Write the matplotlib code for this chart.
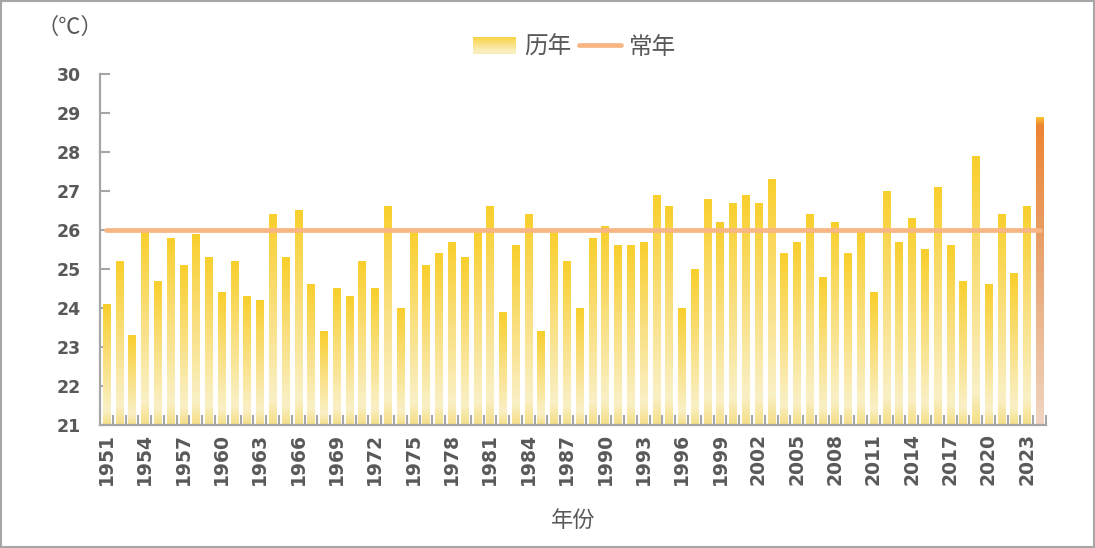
import numpy as np
import matplotlib
matplotlib.use("Agg")
import matplotlib.pyplot as plt
from matplotlib.colors import LinearSegmentedColormap
from matplotlib.patches import Rectangle
from matplotlib.lines import Line2D
from matplotlib.legend_handler import HandlerBase

# 数据
years = list(range(1951, 2025))
temps = [
    24.1, 25.2, 23.3, 26.0, 24.7, 25.8, 25.1, 25.9, 25.3, 24.4,  # 1951-1960
    25.2, 24.3, 24.2, 26.4, 25.3, 26.5, 24.6, 23.4, 24.5, 24.3,  # 1961-1970
    25.2, 24.5, 26.6, 24.0, 26.0, 25.1, 25.4, 25.7, 25.3, 26.0,  # 1971-1980
    26.6, 23.9, 25.6, 26.4, 23.4, 26.0, 25.2, 24.0, 25.8, 26.1,  # 1981-1990
    25.6, 25.6, 25.7, 26.9, 26.6, 24.0, 25.0, 26.8, 26.2, 26.7,  # 1991-2000
    26.9, 26.7, 27.3, 25.4, 25.7, 26.4, 24.8, 26.2, 25.4, 26.0,  # 2001-2010
    24.4, 27.0, 25.7, 26.3, 25.5, 27.1, 25.6, 24.7, 27.9, 24.6,  # 2011-2020
    26.4, 24.9, 26.6, 28.9,                                      # 2021-2024
]
normal_temp = 26.0
label_years = years[:-1:3]
y_ticks = list(range(21, 31))

text_color = "#595959"
axis_color = "#A6A6A6"
cjk = ["Noto Sans CJK SC", "DejaVu Sans"]

# 渐变色
yellow_cm = LinearSegmentedColormap.from_list(
    "yellow", [(0.0, "#F9CF2C"), (0.45, "#F9DF7E"), (0.88, "#FAF0C6"), (1.0, "#F4DE86")])
orange_cm = LinearSegmentedColormap.from_list(
    "orange", [(0.0, "#F8C22C"), (0.025, "#EE8432"), (0.4, "#E89F68"), (1.0, "#F0D5C1")])


class GradientHandler(HandlerBase):
    def create_artists(self, legend, orig_handle, xdescent, ydescent,
                       width, height, fontsize, trans):
        n = 16
        arts = []
        for i in range(n):
            y = -ydescent + height * (1 - (i + 1) / n)
            r = Rectangle((-xdescent, y), width, height / n + 0.3,
                          facecolor=yellow_cm(0.15 + 0.75 * i / (n - 1)),
                          edgecolor="none", transform=trans)
            arts.append(r)
        return arts


fig = plt.figure(figsize=(10.95, 5.48), dpi=100)
ax = fig.add_axes([100 / 1095, 1 - 424.7 / 548, 946 / 1095, 350.7 / 548])

base = y_ticks[0]
heights = [t - base for t in temps]
bars = ax.bar(years, heights, bottom=base, width=0.56, color="none", zorder=2)

grad = np.linspace(0, 1, 256).reshape(-1, 1)
for i, b in enumerate(bars):
    x0 = b.get_x()
    x1 = x0 + b.get_width()
    cm = orange_cm if i == len(bars) - 1 else yellow_cm
    im = ax.imshow(grad, cmap=cm, extent=(x0, x1, base, base + b.get_height()),
                   origin="upper", aspect="auto", zorder=2, interpolation="bilinear")
    im.set_clip_path(b)

ax.plot([years[0], years[-1]], [normal_temp, normal_temp], color="#F7B683",
        lw=3.4, solid_capstyle="round", zorder=3)

ax.set_xlim(years[0] - 0.5, years[-1] + 0.5)
ax.set_ylim(y_ticks[0], y_ticks[-1])
ax.set_aspect("auto")

ax.set_yticks(y_ticks)
ax.set_yticklabels([str(v) for v in y_ticks], fontweight="bold", fontsize=12.5,
                   color=text_color)
ax.set_xticks(label_years)
ax.set_xticklabels([str(v) for v in label_years], rotation=90, fontweight="bold",
                   fontsize=13.5, color=text_color)
ax.set_xticks(np.arange(years[0] + 0.5, years[-1] + 0.6, 1), minor=True)

ax.tick_params(axis="y", direction="in", length=7.5, width=1.5, color=axis_color, pad=14)
ax.tick_params(axis="x", which="major", length=0, pad=6)
ax.tick_params(axis="x", which="minor", direction="in", length=7, width=1.5, color=axis_color)

for s in ["top", "right"]:
    ax.spines[s].set_visible(False)
for s in ["left", "bottom"]:
    ax.spines[s].set_color(axis_color)
    ax.spines[s].set_linewidth(1.6)

handles = [Rectangle((0, 0), 1, 1), Line2D([], [], color="#F7B683", lw=3.4,
                                          solid_capstyle="round")]
fig.legend(handles, ["历年", "常年"], handler_map={Rectangle: GradientHandler()},
           loc="center", bbox_to_anchor=(575 / 1095, 1 - 47 / 548), ncol=2,
           frameon=False, prop={"family": cjk, "size": 17}, labelcolor=text_color,
           handlelength=1.8, handleheight=0.7, handletextpad=0.35, columnspacing=0.3)

fig.text(36 / 1095, 1 - 27 / 548, "（℃）", family=cjk, fontsize=16,
         color=text_color, ha="left", va="center")
fig.text(573 / 1095, 1 - 520 / 548, "年份", family=cjk, fontsize=16,
         color=text_color, ha="center", va="center")

fig.add_artist(Rectangle((0.001, 0.002), 0.998, 0.996, transform=fig.transFigure,
                         fill=False, edgecolor=axis_color, lw=1.5))

fig.savefig("out.png", dpi=100)
